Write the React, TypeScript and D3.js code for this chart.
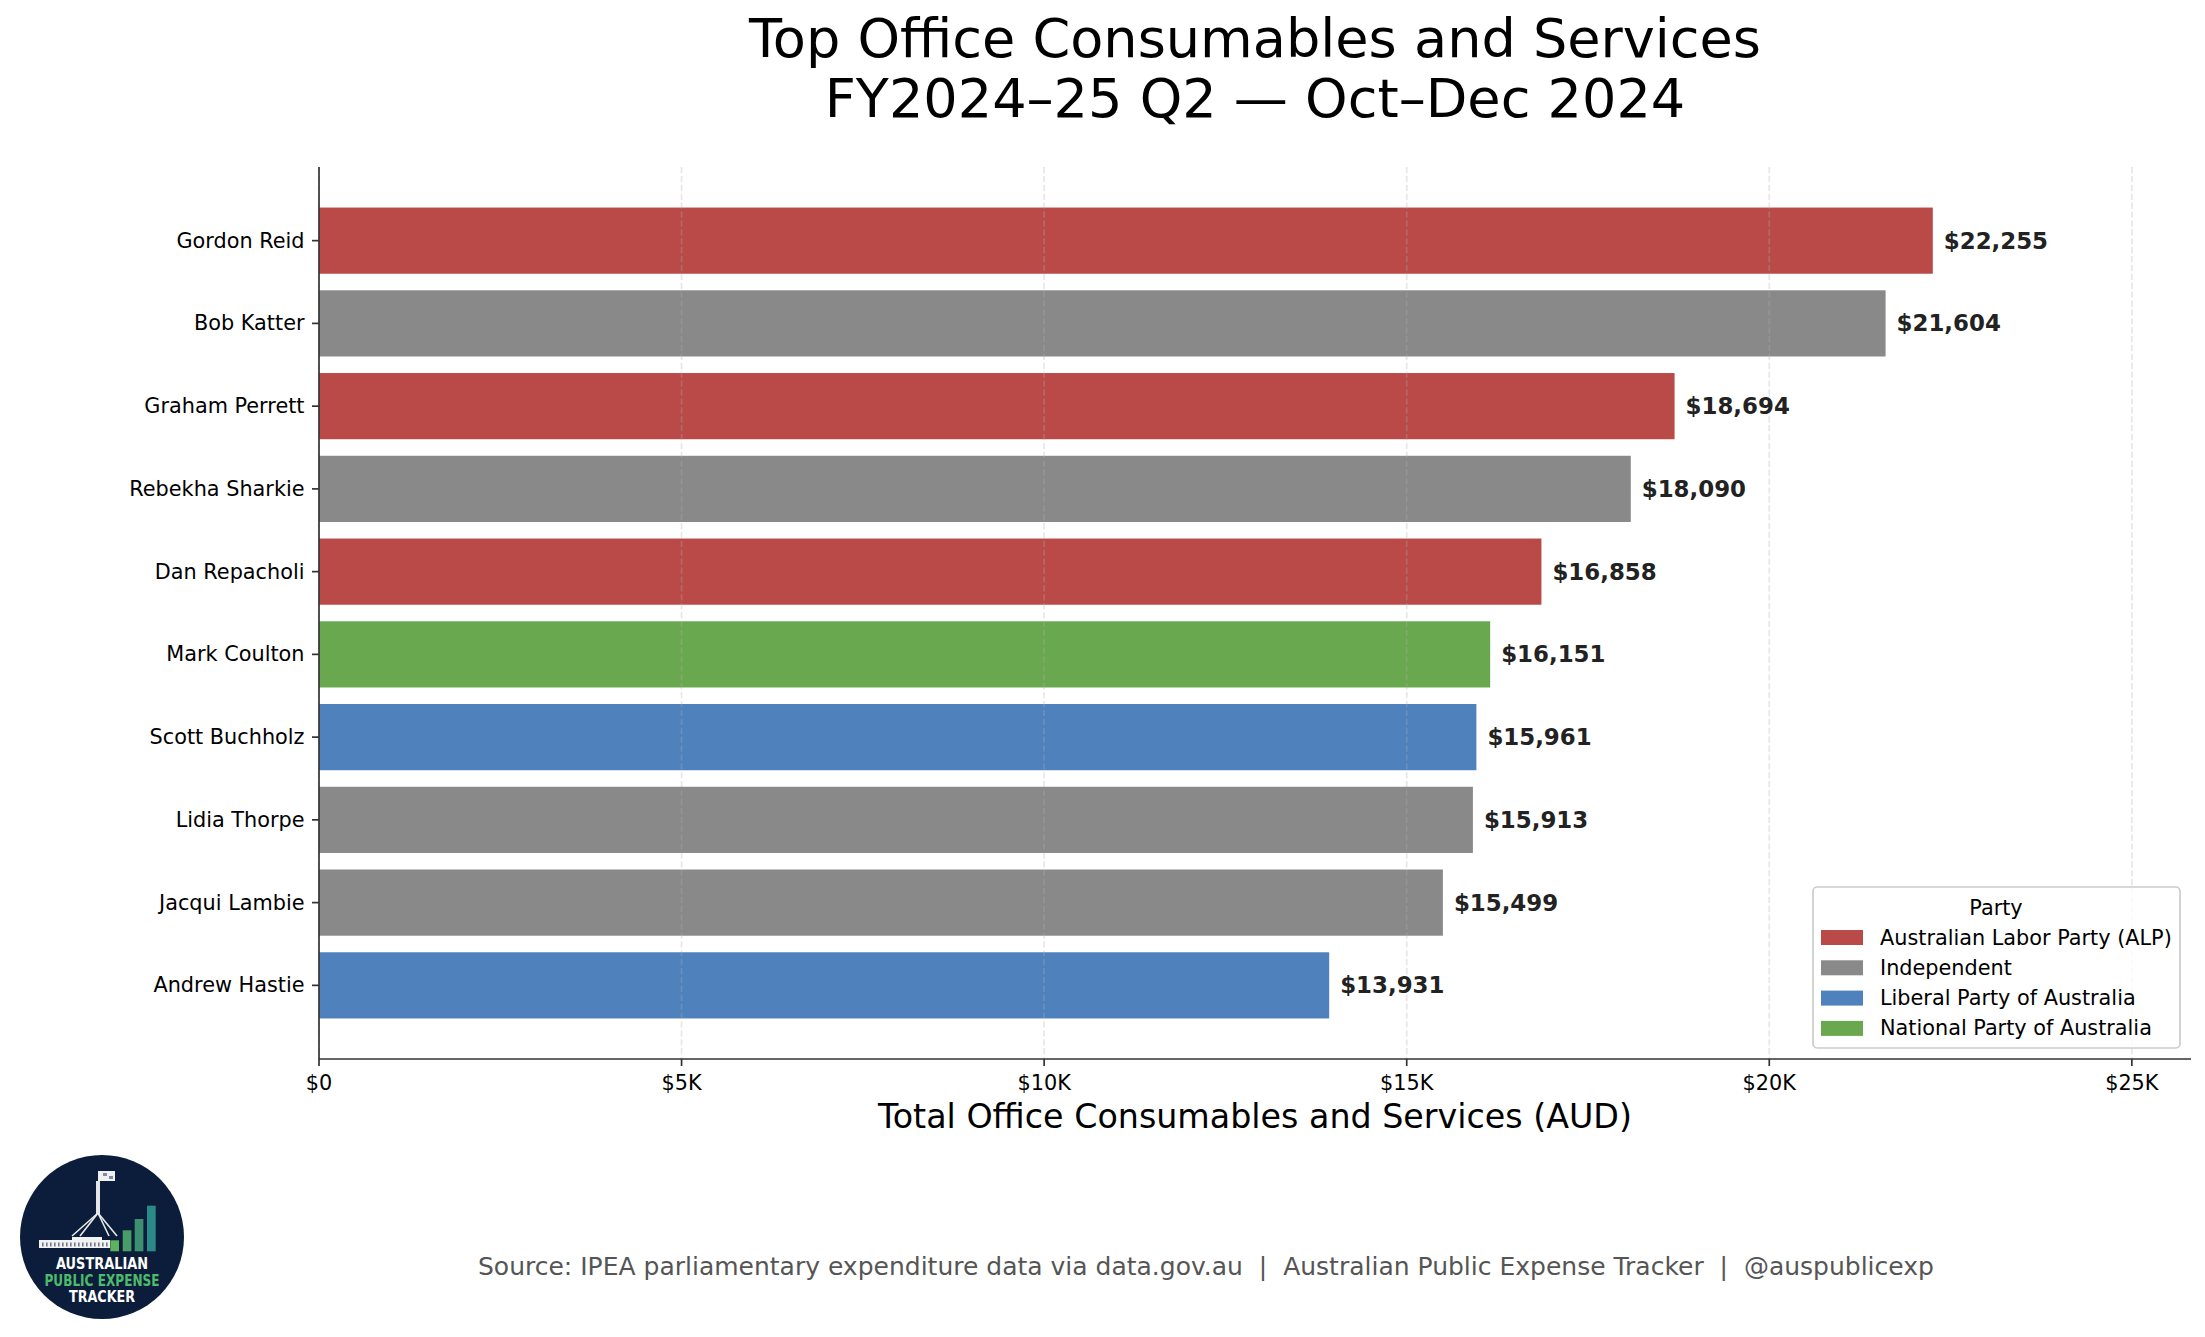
import { useRef, useEffect } from "react";
import * as d3 from "d3";

// data
const members = [
  "Gordon Reid", "Bob Katter", "Graham Perrett", "Rebekha Sharkie", "Dan Repacholi",
  "Mark Coulton", "Scott Buchholz", "Lidia Thorpe", "Jacqui Lambie", "Andrew Hastie",
];
const totals = [22255, 21604, 18694, 18090, 16858, 16151, 15961, 15913, 15499, 13931];
const memberParty = [
  "Australian Labor Party (ALP)", "Independent", "Australian Labor Party (ALP)", "Independent",
  "Australian Labor Party (ALP)", "National Party of Australia", "Liberal Party of Australia",
  "Independent", "Independent", "Liberal Party of Australia",
];
const parties = [
  "Australian Labor Party (ALP)", "Independent", "Liberal Party of Australia", "National Party of Australia",
];
const partyColours = ["#B94A48", "#898989", "#4F81BD", "#6AA84F"];
const xTicks = [0, 5000, 10000, 15000, 20000, 25000];
const xTickLabels = ["$0", "$5K", "$10K", "$15K", "$20K", "$25K"];

const W = 2205, H = 1337;
const FONT = "'DejaVu Sans', sans-serif";

export default function App() {
  const svgRef = useRef<SVGSVGElement>(null);

  useEffect(() => {
    if (!svgRef.current) return;
    const svg = d3.select(svgRef.current);
    svg.selectAll("*").remove();

    const left = 319, right = 2191, top = 167, bottom = 1059;
    const x = d3.scaleLinear().domain([0, d3.max(totals)! * 1.16]).range([left, right]);
    const y = d3.scaleLinear().domain([-0.89, members.length - 1 + 0.89]).range([top, bottom]);
    const colour = d3.scaleOrdinal<string, string>().domain(parties).range(partyColours);
    const bh = (y(0.4) - y(-0.4));

    svg.append("rect").attr("width", W).attr("height", H).attr("fill", "#fff");

    // title
    const title = svg.append("text")
      .attr("x", (left + right) / 2).attr("text-anchor", "middle")
      .attr("font-family", FONT).attr("font-size", 54.1).attr("fill", "#000");
    title.append("tspan").attr("x", (left + right) / 2).attr("y", 57).text("Top Office Consumables and Services");
    title.append("tspan").attr("x", (left + right) / 2).attr("y", 117).text("FY2024–25 Q2 — Oct–Dec 2024");

    // bars
    svg.append("g").selectAll("rect").data(members).join("rect")
      .attr("x", x(0))
      .attr("y", (_, i) => y(i) - bh / 2)
      .attr("width", (_, i) => x(totals[i]) - x(0))
      .attr("height", bh)
      .attr("fill", (_, i) => colour(memberParty[i]));

    // grid (sits over the bars, faint)
    svg.append("g").selectAll("line").data(xTicks).join("line")
      .attr("x1", d => x(d)).attr("x2", d => x(d))
      .attr("y1", top).attr("y2", bottom)
      .attr("stroke", "#b0b0b0").attr("stroke-opacity", 0.3)
      .attr("stroke-width", 1.7).attr("stroke-dasharray", "6.2,2.7");

    // value labels
    svg.append("g").selectAll("text").data(totals).join("text")
      .attr("x", d => x(d) + 11)
      .attr("y", (_, i) => y(i))
      .attr("dominant-baseline", "central")
      .attr("font-family", FONT).attr("font-size", 22.9).attr("font-weight", "bold")
      .attr("fill", "#222")
      .text(d => "$" + d3.format(",")(d));

    // y axis
    const yAxis = svg.append("g");
    yAxis.append("line").attr("x1", left).attr("x2", left).attr("y1", top).attr("y2", bottom)
      .attr("stroke", "#333").attr("stroke-width", 1.7);
    members.forEach((m, i) => {
      yAxis.append("line").attr("x1", left - 7).attr("x2", left).attr("y1", y(i)).attr("y2", y(i))
        .attr("stroke", "#333").attr("stroke-width", 1.7);
      yAxis.append("text").attr("x", left - 14.5).attr("y", y(i))
        .attr("text-anchor", "end").attr("dominant-baseline", "central")
        .attr("font-family", FONT).attr("font-size", 20.8).attr("fill", "#000").text(m);
    });

    // x axis
    const xAxis = svg.append("g");
    xAxis.append("line").attr("x1", left).attr("x2", right).attr("y1", bottom).attr("y2", bottom)
      .attr("stroke", "#333").attr("stroke-width", 1.7);
    xTicks.forEach((t, i) => {
      xAxis.append("line").attr("x1", x(t)).attr("x2", x(t)).attr("y1", bottom).attr("y2", bottom + 7)
        .attr("stroke", "#333").attr("stroke-width", 1.7);
      xAxis.append("text").attr("x", x(t)).attr("y", 1090)
        .attr("text-anchor", "middle")
        .attr("font-family", FONT).attr("font-size", 20.8).attr("fill", "#000").text(xTickLabels[i]);
    });
    svg.append("text").attr("x", (left + right) / 2).attr("y", 1128)
      .attr("text-anchor", "middle").attr("font-family", FONT).attr("font-size", 33.3)
      .attr("fill", "#000").text("Total Office Consumables and Services (AUD)");

    // legend
    const lg = svg.append("g");
    lg.append("rect").attr("x", 1813).attr("y", 887).attr("width", 367).attr("height", 161)
      .attr("rx", 4.2).attr("fill", "#fff").attr("fill-opacity", 0.8)
      .attr("stroke", "#cccccc").attr("stroke-width", 1.7);
    lg.append("text").attr("x", 1996).attr("y", 915).attr("text-anchor", "middle")
      .attr("font-family", FONT).attr("font-size", 20.8).attr("fill", "#000").text("Party");
    parties.forEach((p, i) => {
      const cy = 937.5 + i * 30.3;
      lg.append("rect").attr("x", 1821).attr("y", cy - 7.5).attr("width", 42).attr("height", 15)
        .attr("fill", colour(p));
      lg.append("text").attr("x", 1880).attr("y", cy).attr("dominant-baseline", "central")
        .attr("font-family", FONT).attr("font-size", 20.8).attr("fill", "#000").text(p);
    });

    // footer
    svg.append("text").attr("x", 478).attr("y", 1275)
      .attr("font-family", FONT).attr("font-size", 25).attr("fill", "#555")
      .attr("xml:space", "preserve")
      .text("Source: IPEA parliamentary expenditure data via data.gov.au  |  Australian Public Expense Tracker  |  @auspublicexp");

    // logo badge
    const lx = 102, ly = 1237;
    const logo = svg.append("g").attr("transform", `translate(${lx},${ly})`);
    logo.append("circle").attr("r", 82).attr("fill", "#0b1d3a");
    // flag + pole
    logo.append("rect").attr("x", -4).attr("y", -66).attr("width", 17).attr("height", 10).attr("fill", "#f0f0f0");
    logo.append("rect").attr("x", 1).attr("y", -64).attr("width", 4).attr("height", 3).attr("fill", "#7d8aa3");
    logo.append("rect").attr("x", 7).attr("y", -61).attr("width", 4).attr("height", 3).attr("fill", "#7d8aa3");
    logo.append("rect").attr("x", -6).attr("y", -56).attr("width", 4).attr("height", 33).attr("fill", "#e6e6e6");
    [-30, -22, 7, 15].forEach(ex => {
      logo.append("line").attr("x1", -4).attr("y1", -24).attr("x2", ex).attr("y2", -1)
        .attr("stroke", "#e8e8e8").attr("stroke-width", 1.6);
    });
    // building
    logo.append("rect").attr("x", -63).attr("y", 3).attr("width", 71).attr("height", 8).attr("fill", "#f2f2f2");
    logo.append("rect").attr("x", -30).attr("y", 0).attr("width", 30).attr("height", 4).attr("fill", "#f2f2f2");
    d3.range(-60, 6, 4).forEach(wx => {
      logo.append("rect").attr("x", wx).attr("y", 5.5).attr("width", 1.6).attr("height", 4).attr("fill", "#6f7a8e");
    });
    // rising bars
    [[8.3, 3.3, "#5cb35e"], [20.7, -6.7, "#4a9d69"], [32.7, -18, "#3d8f72"], [45, -31.3, "#2b8a88"]]
      .forEach(([bx, by, c]) => {
        logo.append("rect").attr("x", bx as number).attr("y", by as number).attr("width", 8.7)
          .attr("height", 14.3 - (by as number)).attr("fill", c as string);
      });
    const lines: [string, number, number, string][] = [
      ["AUSTRALIAN", 32, 92, "#ffffff"],
      ["PUBLIC EXPENSE", 48.5, 115, "#4cbb6c"],
      ["TRACKER", 65, 66, "#ffffff"],
    ];
    lines.forEach(([t, by, len, c]) => {
      logo.append("text").attr("x", -len / 2).attr("y", by)
        .attr("textLength", len).attr("lengthAdjust", "spacingAndGlyphs")
        .attr("font-family", FONT).attr("font-size", 15.5).attr("font-weight", "bold")
        .attr("fill", c).text(t);
    });
  }, []);

  return (
    <div style={{ position: "fixed", left: 0, top: 0 }}>
      <svg ref={svgRef} width={W} height={H} />
    </div>
  );
}
